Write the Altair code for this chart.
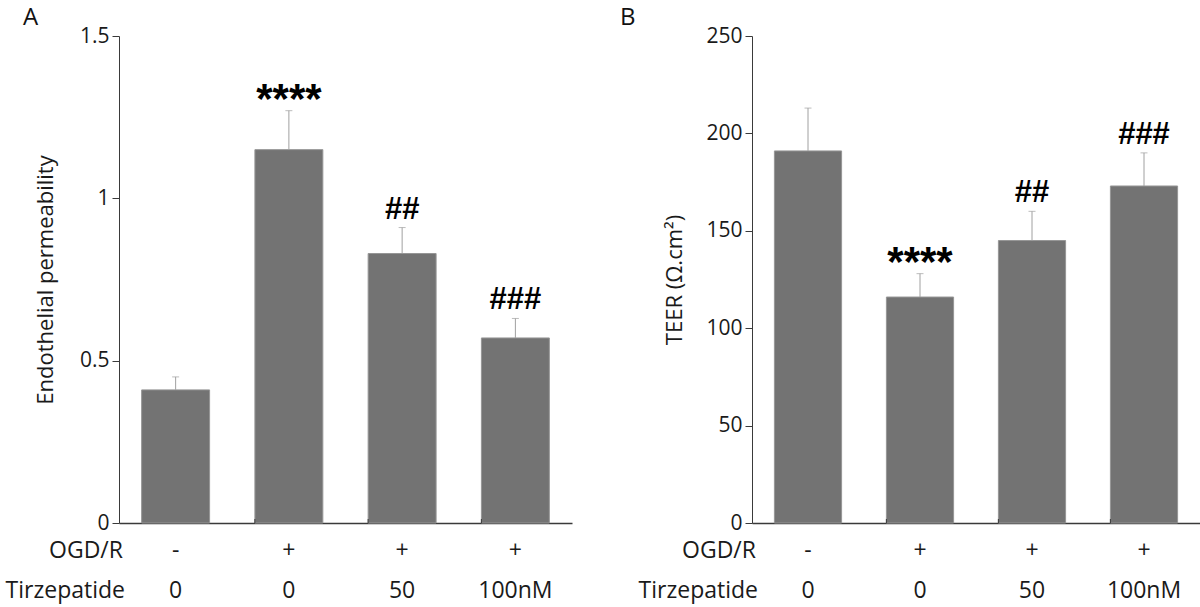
import altair as alt
import pandas as pd

# Treatment groups (shared by both panels)
ogd_r = ["-", "+", "+", "+"]
tirzepatide = ["0", "0", "50", "100nM"]
group_ids = ["1", "2", "3", "4"]

# Panel A: endothelial permeability (mean and top of the SD bar)
perm_mean = [0.41, 1.15, 0.83, 0.57]
perm_upper = [0.45, 1.27, 0.91, 0.63]
perm_sig = ["", "****", "##", "###"]

# Panel B: TEER in ohm·cm²
teer_mean = [191, 116, 145, 173]
teer_upper = [213, 128, 160, 190]
teer_sig = ["", "****", "##", "###"]

FONT = "Open Sans"
SIG_FONT = "Liberation Sans"
BAR = "#737373"
ERR = "#a0a0a0"
AXIS = "#3a3a3a"
TXT = "#1a1a1a"
H = 487


def panel(mean, upper, sig, letter, y_title, y_max, y_ticks, width, title_x):
    df = pd.DataFrame({
        "grp": group_ids, "ogd": ogd_r, "tirz": tirzepatide,
        "mean": mean, "upper": upper, "sig": sig,
    })
    xs = alt.Scale(domain=group_ids, paddingInner=0.4, paddingOuter=0.2)
    x = alt.X("grp:N", scale=xs, title=None,
              axis=alt.Axis(labels=False, ticks=False, domainColor=AXIS,
                            domainWidth=1.5))
    base = alt.Chart(df)

    bars = base.mark_bar(color=BAR, stroke="#969696", strokeWidth=1).encode(
        x=x,
        y=alt.Y("mean:Q", scale=alt.Scale(domain=[0, y_max], nice=False, zero=True),
                axis=alt.Axis(values=y_ticks, format=".1~f", grid=False,
                              domainColor=AXIS, tickColor=AXIS, tickSize=7,
                              labelFont=FONT, labelFontSize=21, labelColor=TXT,
                              labelPadding=3, title=y_title, titleFont=FONT,
                              titleFontSize=22, titleFontWeight="normal",
                              titleColor=TXT, titleX=title_x, titleY=H / 2,
                              titleAngle=270, titleAlign="center",
                              titleBaseline="middle")),
    )
    err = base.mark_rule(color=ERR, strokeWidth=1).encode(
        x="grp:N", y="mean:Q", y2="upper:Q")
    cap = base.mark_tick(color=ERR, thickness=1, size=7).encode(
        x="grp:N", y="upper:Q")
    stars = base.transform_filter("datum.sig == '****'").mark_text(
        font=SIG_FONT, fontSize=42, fontWeight="bold", color="black",
        baseline="alphabetic", dy=2).encode(x="grp:N", y="upper:Q", text="sig:N")
    hashes = base.transform_filter("indexof(datum.sig, '#') >= 0").mark_text(
        font=SIG_FONT, fontSize=31, fontWeight="bold", color="black",
        baseline="alphabetic", dy=-9).encode(x="grp:N", y="upper:Q", text="sig:N")
    inner_ticks = base.transform_filter("datum.grp != '1'").mark_rule(
        color=AXIS, strokeWidth=1).encode(
        x=alt.X("grp:N", bandPosition=0), y=alt.value(H), y2=alt.value(H - 4))
    row1 = base.mark_text(font=FONT, fontSize=23, color=TXT,
                          baseline="middle").encode(
        x="grp:N", y=alt.value(H + 28), text="ogd:N")
    row2 = base.mark_text(font=FONT, fontSize=23, color=TXT,
                          baseline="middle").encode(
        x="grp:N", y=alt.value(H + 68), text="tirz:N")

    one = alt.Chart(pd.DataFrame({"k": [0]}))
    head1 = one.mark_text(font=FONT, fontSize=23, color=TXT, align="right",
                          baseline="middle", text="OGD/R").encode(
        x=alt.value(4), y=alt.value(H + 28))
    head2 = one.mark_text(font=FONT, fontSize=23, color=TXT, align="right",
                          baseline="middle", text="Tirzepatide").encode(
        x=alt.value(6), y=alt.value(H + 68))
    tag = one.mark_text(font=FONT, fontSize=24, color="#111111", align="left",
                        baseline="alphabetic", text=letter).encode(
        x=alt.value(-96 if letter == "A" else -132), y=alt.value(-11))

    return alt.layer(bars, err, cap, stars, hashes, inner_ticks, row1, row2,
                     head1, head2, tag).properties(width=width, height=H)


chart_a = panel(perm_mean, perm_upper, perm_sig, "A", "Endothelial permeability",
                1.5, [0, 0.5, 1, 1.5], 453, -74)
chart_b = panel(teer_mean, teer_upper, teer_sig, "B", "TEER (Ω.cm²)",
                250, [0, 50, 100, 150, 200, 250], 448, -78)

chart = alt.hconcat(chart_a, chart_b, spacing=180, bounds="flush").properties(
    padding={"left": 5, "top": 6, "right": 0, "bottom": 10},
    background="white",
).configure_view(stroke=None)

chart.save("out.html", embed_options={"renderer": "svg", "actions": False})
